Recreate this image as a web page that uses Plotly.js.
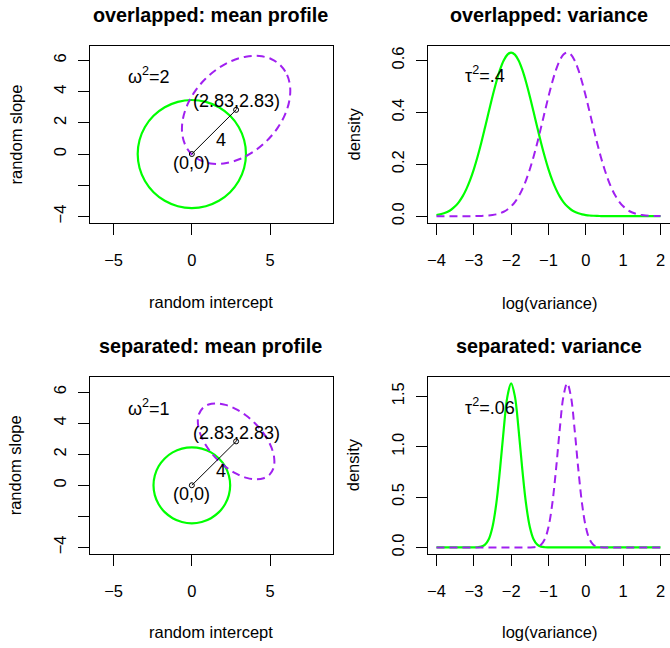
<!DOCTYPE html>
<html>
<head>
<meta charset="utf-8">
<script src="https://cdn.plot.ly/plotly-3.0.1.min.js"></script>
<style>html,body{margin:0;padding:0;background:#fff;}#chart{width:670px;height:648px;}</style>
</head>
<body>
<div id="chart"></div>
<script>
// ---------- data ----------
const panelTitles = ["overlapped: mean profile", "overlapped: variance", "separated: mean profile", "separated: variance"];
const meanAxisTitles = ["random intercept", "random slope"];
const varAxisTitles = ["log(variance)", "density"];
const omegaLabels = ["ω<sup>2</sup>=2", "ω<sup>2</sup>=1"];
const tauLabels = ["τ<sup>2</sup>=.4", "τ<sup>2</sup>=.06"];
const pointLabels = ["(0,0)", "(2.83,2.83)"];
const distanceLabel = "4";

// mean profile: segment between the two means
const segX = [0, 2.83];
const segY = [0, 2.83];

// green 95% contour, overlapped (omega^2 = 2)
const circOverX = [3.46,3.342,2.996,2.447,1.73,0.896,0,-0.896,-1.73,-2.447,-2.996,-3.342,-3.46,-3.342,-2.996,-2.447,-1.73,-0.896,0,0.896,1.73,2.447,2.996,3.342,3.46];
const circOverY = [0,0.896,1.73,2.447,2.996,3.342,3.46,3.342,2.996,2.447,1.73,0.896,0,-0.896,-1.73,-2.447,-2.996,-3.342,-3.46,-3.342,-2.996,-2.447,-1.73,-0.896,0];
// purple 95% contour, overlapped
const ellOverX = [5.674,6.088,6.280,6.237,5.961,5.472,4.804,4.000,3.117,2.215,1.354,0.594,-0.014,-0.428,-0.620,-0.577,-0.301,0.188,0.857,1.660,2.543,3.446,4.306,5.066,5.674];
const ellOverY = [5.674,5.066,4.306,3.446,2.543,1.660,0.857,0.188,-0.301,-0.577,-0.620,-0.428,-0.014,0.594,1.354,2.215,3.117,4.000,4.804,5.472,5.961,6.237,6.280,6.088,5.674];

// green 95% contour, separated (omega^2 = 1)
const circSepX = [2.45,2.366,2.122,1.732,1.225,0.634,0,-0.634,-1.225,-1.732,-2.122,-2.366,-2.45,-2.366,-2.122,-1.732,-1.225,-0.634,0,0.634,1.225,1.732,2.122,2.366,2.45];
const circSepY = [0,0.634,1.225,1.732,2.122,2.366,2.45,2.366,2.122,1.732,1.225,0.634,0,-0.634,-1.225,-1.732,-2.122,-2.366,-2.45,-2.366,-2.122,-1.732,-1.225,-0.634,0];
// purple 95% contour, separated
const ellSepX = [4.017,4.530,4.928,5.183,5.277,5.205,4.971,4.591,4.091,3.505,2.873,2.238,1.643,1.130,0.732,0.477,0.383,0.455,0.689,1.069,1.569,2.155,2.787,3.422,4.017];
const ellSepY = [4.017,3.422,2.787,2.155,1.569,1.069,0.689,0.455,0.383,0.477,0.732,1.130,1.643,2.238,2.873,3.505,4.091,4.591,4.971,5.205,5.277,5.183,4.928,4.530,4.017];

// variance panels
const logVar = [-4.0,-3.9,-3.8,-3.7,-3.6,-3.5,-3.4,-3.3,-3.2,-3.1,-3.0,-2.9,-2.8,-2.7,-2.6,-2.5,-2.4,-2.3,-2.2,-2.1,-2.0,-1.9,-1.8,-1.7,-1.6,-1.5,-1.4,-1.3,-1.2,-1.1,-1.0,-0.9,-0.8,-0.7,-0.6,-0.5,-0.4,-0.3,-0.2,-0.1,0.0,0.1,0.2,0.3,0.4,0.5,0.6,0.7,0.8,0.9,1.0,1.1,1.2,1.3,1.4,1.5,1.6,1.7,1.8,1.9,2.0];
const densOverGreen = [0.0043,0.0069,0.0110,0.0170,0.0257,0.0379,0.0544,0.0763,0.1043,0.1390,0.1807,0.2292,0.2834,0.3419,0.4022,0.4615,0.5164,0.5637,0.6000,0.6229,0.6308,0.6229,0.6000,0.5637,0.5164,0.4615,0.4022,0.3419,0.2834,0.2292,0.1807,0.1390,0.1043,0.0763,0.0544,0.0379,0.0257,0.0170,0.0110,0.0069,0.0043,0.0025,0.0015,0.0008,0.0005,0.0003,0.0001,0,0,0,0,0,0,0,0,0,0,0,0,0,0];
const densOverPurple = [0,0,0,0,0,0,0,0,0,0.0001,0.0003,0.0005,0.0008,0.0015,0.0025,0.0043,0.0069,0.0110,0.0170,0.0257,0.0379,0.0544,0.0763,0.1043,0.1390,0.1807,0.2292,0.2834,0.3419,0.4022,0.4615,0.5164,0.5637,0.6000,0.6229,0.6308,0.6229,0.6000,0.5637,0.5164,0.4615,0.4022,0.3419,0.2834,0.2292,0.1807,0.1390,0.1043,0.0763,0.0544,0.0379,0.0257,0.0170,0.0110,0.0069,0.0043,0.0025,0.0015,0.0008,0.0005,0.0003];
const densSepGreen = [0,0,0,0,0,0,0,0,0,0.0001,0.0004,0.0019,0.0079,0.0274,0.0811,0.2028,0.4293,0.7693,1.1670,1.4985,1.6287,1.4985,1.1670,0.7693,0.4293,0.2028,0.0811,0.0274,0.0079,0.0019,0.0004,0.0001,0,0,0,0,0,0,0,0,0,0,0,0,0,0,0,0,0,0,0,0,0,0,0,0,0,0,0,0,0];
const densSepPurple = [0,0,0,0,0,0,0,0,0,0,0,0,0,0,0,0,0,0,0,0,0,0,0,0,0.0001,0.0004,0.0019,0.0079,0.0274,0.0811,0.2028,0.4293,0.7693,1.1670,1.4985,1.6287,1.4985,1.1670,0.7693,0.4293,0.2028,0.0811,0.0274,0.0079,0.0019,0.0004,0.0001,0,0,0,0,0,0,0,0,0,0,0,0,0,0];

// tick labels
const meanXTicks = [-5, 0, 5];
const meanXText = ["−5", "0", "5"];
const meanYTicks = [-4, -2, 0, 2, 4, 6];
const meanYText = ["−4", " ", "0", "2", "4", "6"];
const varXTicks = [-4, -3, -2, -1, 0, 1, 2];
const varXText = ["−4", "−3", "−2", "−1", "0", "1", "2"];
const densTicksOver = [0, 0.2, 0.4, 0.6];
const densTextOver = ["0.0", "0.2", "0.4", "0.6"];
const densTicksSep = [0, 0.5, 1.0, 1.5];
const densTextSep = ["0.0", "0.5", "1.0", "1.5"];

// ---------- styling ----------
const W = 670, H = 648;
const FONT = "Liberation Sans, Arial, Helvetica, sans-serif";
const GREEN = "#00FF00", PURPLE = "#A020F0";
const greenLine = {color: GREEN, width: 2.2, shape: "spline", smoothing: 1};
const purpleLine = {color: PURPLE, width: 2, dash: "8px,5px", shape: "spline", smoothing: 1};

// panel boxes in pixels [left, right, top, bottom]
const boxes = [
  [89.5, 332.5, 46, 222.7],
  [427.5, 669.5, 46, 222.7],
  [89.5, 332.5, 376.7, 554],
  [427.5, 669.5, 376.7, 554]
];
function xdom(b) { return [b[0] / W, b[1] / W]; }
function ydom(b) { return [1 - b[3] / H, 1 - b[2] / H]; }

function axisBase(extra) {
  return Object.assign({
    showline: true, mirror: true, linecolor: "#000", linewidth: 1,
    ticks: "outside", ticklen: 11, tickwidth: 1, tickcolor: "#000",
    showgrid: false, zeroline: false, tickmode: "array",
    tickfont: {family: FONT, size: 16.5, color: "#000"},
    fixedrange: true
  }, extra);
}
function xAxis(extra) { return axisBase(Object.assign({ticklabelstandoff: 11}, extra)); }
function yAxis(extra) { return axisBase(Object.assign({ticklabelstandoff: 5, tickangle: -90}, extra)); }

const traces = [];
function meanPanel(xa, ya, cx, cy, ex, ey) {
  traces.push({x: cx, y: cy, xaxis: xa, yaxis: ya, mode: "lines", line: greenLine, hoverinfo: "skip"});
  traces.push({x: ex, y: ey, xaxis: xa, yaxis: ya, mode: "lines", line: purpleLine, hoverinfo: "skip"});
  traces.push({x: segX, y: segY, xaxis: xa, yaxis: ya, mode: "lines+markers",
    line: {color: "#000", width: 1},
    marker: {symbol: "circle-open", size: 5, color: "#000", line: {width: 1, color: "#000"}},
    hoverinfo: "skip"});
}
function varPanel(xa, ya, g, p) {
  traces.push({x: logVar, y: g, xaxis: xa, yaxis: ya, mode: "lines", line: greenLine, hoverinfo: "skip"});
  traces.push({x: logVar, y: p, xaxis: xa, yaxis: ya, mode: "lines", line: purpleLine, hoverinfo: "skip"});
}
meanPanel("x", "y", circOverX, circOverY, ellOverX, ellOverY);
varPanel("x2", "y2", densOverGreen, densOverPurple);
meanPanel("x3", "y3", circSepX, circSepY, ellSepX, ellSepY);
varPanel("x4", "y4", densSepGreen, densSepPurple);

const layout = {
  width: W, height: H,
  margin: {l: 0, r: 0, t: 0, b: 0},
  paper_bgcolor: "#fff", plot_bgcolor: "#fff",
  showlegend: false,
  font: {family: FONT, color: "#000"},
  xaxis: xAxis({domain: xdom(boxes[0]), anchor: "y", range: [-6.54, 8.99], tickvals: meanXTicks, ticktext: meanXText}),
  yaxis: yAxis({domain: ydom(boxes[0]), anchor: "x", range: [-4.40, 6.92], tickvals: meanYTicks, ticktext: meanYText}),
  xaxis2: xAxis({domain: xdom(boxes[1]), anchor: "y2", range: [-4.24, 2.24], tickvals: varXTicks, ticktext: varXText}),
  yaxis2: yAxis({domain: ydom(boxes[1]), anchor: "x2", range: [-0.0252, 0.656], tickvals: densTicksOver, ticktext: densTextOver}),
  xaxis3: xAxis({domain: xdom(boxes[2]), anchor: "y3", range: [-6.54, 8.99], tickvals: meanXTicks, ticktext: meanXText}),
  yaxis3: yAxis({domain: ydom(boxes[2]), anchor: "x3", range: [-4.43, 7.0], tickvals: meanYTicks, ticktext: meanYText}),
  xaxis4: xAxis({domain: xdom(boxes[3]), anchor: "y4", range: [-4.24, 2.24], tickvals: varXTicks, ticktext: varXText}),
  yaxis4: yAxis({domain: ydom(boxes[3]), anchor: "x4", range: [-0.065, 1.694], tickvals: densTicksSep, ticktext: densTextSep}),
  annotations: []
};

function paperText(text, px, py, size, extra) {
  layout.annotations.push(Object.assign({
    text: text, xref: "paper", yref: "paper", x: px / W, y: 1 - py / H,
    xanchor: "center", yanchor: "middle", showarrow: false,
    font: {family: FONT, size: size, color: "#000"}
  }, extra || {}));
}
function dataText(text, xa, ya, x, y, size, extra) {
  layout.annotations.push(Object.assign({
    text: text, xref: xa, yref: ya, x: x, y: y,
    xanchor: "center", yanchor: "middle", showarrow: false,
    font: {family: FONT, size: size, color: "#000"}
  }, extra || {}));
}

// panel titles
const titleY = [15, 15, 345.7, 345.7];
boxes.forEach((b, i) => {
  paperText(panelTitles[i], (b[0] + b[1]) / 2, titleY[i], 19.8,
    {font: {family: FONT, size: 19.8, color: "#000", weight: "bold"}});
});
// axis titles
paperText(meanAxisTitles[0], 211, 301.7, 16.5);
paperText(meanAxisTitles[0], 211, 632.3, 16.5);
paperText(varAxisTitles[0], 549, 303.3, 16.5);
paperText(varAxisTitles[0], 549, 632.3, 16.5);
paperText(meanAxisTitles[1], 15, 134.5, 16.5, {textangle: -90});
paperText(meanAxisTitles[1], 15, 465.3, 16.5, {textangle: -90});
paperText(varAxisTitles[1], 353, 134.5, 16.5, {textangle: -90});
paperText(varAxisTitles[1], 353, 465.3, 16.5, {textangle: -90});

// in-panel labels
[["x", "y"], ["x3", "y3"]].forEach((ax, i) => {
  dataText(omegaLabels[i], ax[0], ax[1], -4.19, 5.0, 18, {xanchor: "left"});
  dataText(pointLabels[1], ax[0], ax[1], segX[1], segY[1], 18, {yshift: 8.5});
  dataText(pointLabels[0], ax[0], ax[1], segX[0], segY[0], 18, {yshift: -8.5});
  dataText(distanceLabel, ax[0], ax[1], 1.84, 0.9, 18);
});
dataText(tauLabels[0], "x2", "y2", -3.28, 0.548, 18, {xanchor: "left"});
dataText(tauLabels[1], "x4", "y4", -3.28, 1.40, 18, {xanchor: "left"});

Plotly.newPlot("chart", traces, layout, {staticPlot: true, displayModeBar: false});
</script>
</body>
</html>
